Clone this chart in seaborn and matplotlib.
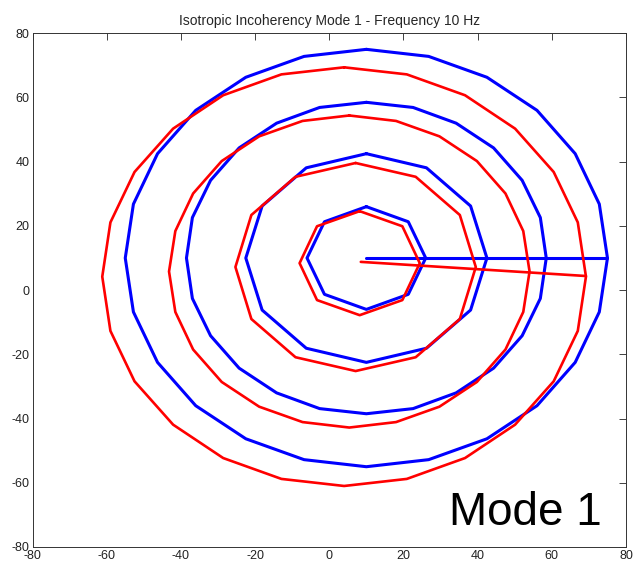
import numpy as np
import matplotlib
matplotlib.use("Agg")
import matplotlib.pyplot as plt
from matplotlib import font_manager
import seaborn as sns

# blue rings (reference), vertices listed clockwise from the top
blue1_x = [10, 21.3, 26, 21.3, 10, -1.3, -6, -1.3]
blue1_y = [26, 21.3, 10, -1.3, -6, -1.3, 10, 21.3]

blue2_x = [10, 26.2, 38.1, 42.5, 38.1, 26.2, 10, -6.2, -18.1, -22.5, -18.1, -6.2]
blue2_y = [42.5, 38.1, 26.2, 10, -6.2, -18.1, -22.5, -18.1, -6.2, 10, 26.2, 38.1]

blue3_x = [10, 22.6, 34.2, 44.3, 52.0, 56.9, 58.5, 56.9, 52.0, 44.3, 34.2, 22.6,
           10, -2.6, -14.2, -24.3, -32.0, -36.9, -38.5, -36.9, -32.0, -24.3, -14.2, -2.6]
blue3_y = [58.5, 56.9, 52.0, 44.3, 34.2, 22.6, 10, -2.6, -14.2, -24.3, -32.0, -36.9,
           -38.5, -36.9, -32.0, -24.3, -14.2, -2.6, 10, 22.6, 34.2, 44.3, 52.0, 56.9]

blue4_x = [10, 26.8, 42.5, 56.0, 66.3, 72.8, 75.0, 72.8, 66.3, 56.0, 42.5, 26.8,
           10, -6.8, -22.5, -36.0, -46.3, -52.8, -55.0, -52.8, -46.3, -36.0, -22.5, -6.8]
blue4_y = [75.0, 72.8, 66.3, 56.0, 42.5, 26.8, 10, -6.8, -22.5, -36.0, -46.3, -52.8,
           -55.0, -52.8, -46.3, -36.0, -22.5, -6.8, 10, 26.8, 42.5, 56.0, 66.3, 72.8]

# red rings (mode shape)
red1_x = [8.2, 19.7, 24.4, 19.7, 8.2, -3.3, -8.0, -3.3]
red1_y = [24.6, 19.9, 8.4, -3.1, -7.8, -3.1, 8.4, 19.9]

red2_x = [7.1, 23.3, 35.2, 39.5, 35.2, 23.3, 7.1, -9.1, -21.0, -25.3, -21.0, -9.1]
red2_y = [39.6, 35.3, 23.4, 7.2, -9.0, -20.9, -25.2, -20.9, -9.0, 7.2, 23.4, 35.3]

red3_x = [5.4, 18.0, 29.7, 39.8, 47.5, 52.3, 54.0, 52.3, 47.5, 39.8, 29.7, 18.0,
          5.4, -7.2, -18.9, -29.0, -36.7, -41.5, -43.2, -41.5, -36.7, -29.0, -18.9, -7.2]
red3_y = [54.4, 52.7, 47.9, 40.2, 30.1, 18.4, 5.8, -6.8, -18.5, -28.6, -36.3, -41.1,
          -42.8, -41.1, -36.3, -28.6, -18.5, -6.8, 5.8, 18.4, 30.1, 40.2, 47.9, 52.7]

red4_x = [4.0, 20.9, 36.6, 50.1, 60.5, 67.0, 69.2, 67.0, 60.5, 50.1, 36.6, 20.9,
          4.0, -12.9, -28.6, -42.1, -52.5, -59.0, -61.2, -59.0, -52.5, -42.1, -28.6, -12.9]
red4_y = [69.4, 67.2, 60.7, 50.3, 36.8, 21.1, 4.2, -12.7, -28.4, -41.9, -52.3, -58.8,
          -61.0, -58.8, -52.3, -41.9, -28.4, -12.7, 4.2, 21.1, 36.8, 50.3, 60.7, 67.2]

# radius lines
blue_line_x = [10, 75]
blue_line_y = [10, 10]
red_line_x = [8.5, 69.2]
red_line_y = [8.8, 4.4]

ticks = [-80, -60, -40, -20, 0, 20, 40, 60, 80]

sns.set_style("white")
names = {f.name for f in font_manager.fontManager.ttflist}
main_font = "Liberation Sans Narrow" if "Liberation Sans Narrow" in names else "Liberation Sans"
plt.rcParams["font.family"] = [main_font, "DejaVu Sans"]
plt.rcParams["axes.unicode_minus"] = False

fig = plt.figure(figsize=(6.34, 5.69), dpi=100)
ax = fig.add_axes([0.0513, 0.0387, 0.9361, 0.9028])


def ring(x, y, color, lw):
    xs = np.append(x, x[0])
    ys = np.append(y, y[0])
    sns.lineplot(x=xs, y=ys, sort=False, estimator=None, color=color, lw=lw, ax=ax)


for x, y in [(blue1_x, blue1_y), (blue2_x, blue2_y), (blue3_x, blue3_y), (blue4_x, blue4_y)]:
    ring(x, y, (0, 0, 1), 2.2)
sns.lineplot(x=blue_line_x, y=blue_line_y, sort=False, estimator=None, color=(0, 0, 1), lw=2.2, ax=ax)

for x, y in [(red1_x, red1_y), (red2_x, red2_y), (red3_x, red3_y), (red4_x, red4_y)]:
    ring(x, y, (1, 0, 0), 1.9)
sns.lineplot(x=red_line_x, y=red_line_y, sort=False, estimator=None, color=(1, 0, 0), lw=1.9, ax=ax)

ax.set_xlim(-80, 80)
ax.set_ylim(-80, 80)
ax.set_xticks(ticks)
ax.set_yticks(ticks)
ax.tick_params(direction="in", top=True, right=True, length=5, width=0.6,
               labelsize=9, pad=2, colors="#222222")
for s in ax.spines.values():
    s.set_color("#333333")
    s.set_linewidth(0.7)

ax.set_title("Isotropic Incoherency Mode 1 - Frequency 10 Hz", fontsize=10, pad=6)
ax.text(52.8, -73.2, "Mode 1", fontsize=33, ha="center", va="baseline", color="black")

fig.savefig("out.png", dpi=100)
